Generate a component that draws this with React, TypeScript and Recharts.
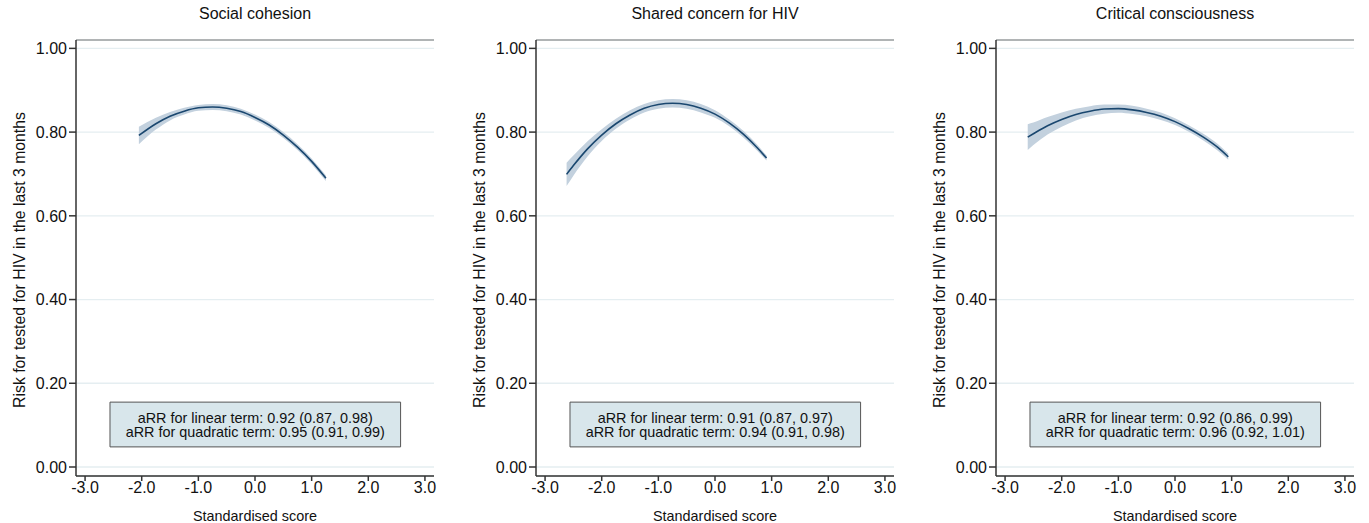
import React from 'react';
import { ComposedChart, Area, Line, XAxis, YAxis, CartesianGrid, ReferenceArea, Label } from 'recharts';

const xTicks = [-3, -2, -1, 0, 1, 2, 3];
const yTicks = [0, 0.2, 0.4, 0.6, 0.8, 1.0];

const panelTitles = ['Social cohesion', 'Shared concern for HIV', 'Critical consciousness'];
const linearTerms = [
  'aRR for linear term: 0.92 (0.87, 0.98)',
  'aRR for linear term: 0.91 (0.87, 0.97)',
  'aRR for linear term: 0.92 (0.86, 0.99)',
];
const quadraticTerms = [
  'aRR for quadratic term: 0.95 (0.91, 0.99)',
  'aRR for quadratic term: 0.94 (0.91, 0.98)',
  'aRR for quadratic term: 0.96 (0.92, 1.01)',
];
const yAxisTitle = 'Risk for tested for HIV in the last 3 months';
const xAxisTitle = 'Standardised score';

// Social cohesion
const cohesionX = [-2.05, -1.75, -1.5, -1.25, -1.0, -0.75, -0.5, -0.25, 0, 0.25, 0.5, 0.75, 1.0, 1.25];
const cohesionFit = [0.792, 0.820, 0.838, 0.850, 0.858, 0.860, 0.857, 0.849, 0.835, 0.817, 0.793, 0.764, 0.730, 0.690];
const cohesionLo = [0.771, 0.806, 0.828, 0.842, 0.851, 0.853, 0.850, 0.842, 0.828, 0.810, 0.786, 0.757, 0.723, 0.683];
const cohesionHi = [0.813, 0.834, 0.848, 0.858, 0.865, 0.867, 0.864, 0.856, 0.842, 0.824, 0.800, 0.771, 0.737, 0.697];

// Shared concern for HIV
const concernX = [-2.62, -2.5, -2.25, -2.0, -1.75, -1.5, -1.25, -1.0, -0.75, -0.5, -0.25, 0, 0.25, 0.5, 0.75, 0.91];
const concernFit = [0.699, 0.720, 0.760, 0.793, 0.820, 0.841, 0.857, 0.866, 0.869, 0.866, 0.857, 0.843, 0.822, 0.795, 0.762, 0.738];
const concernLo = [0.671, 0.696, 0.742, 0.779, 0.808, 0.830, 0.847, 0.856, 0.859, 0.856, 0.847, 0.834, 0.814, 0.787, 0.755, 0.732];
const concernHi = [0.727, 0.744, 0.778, 0.807, 0.832, 0.852, 0.867, 0.876, 0.879, 0.876, 0.867, 0.852, 0.830, 0.803, 0.769, 0.744];

// Critical consciousness
const criticalX = [-2.6, -2.5, -2.25, -2.0, -1.75, -1.5, -1.25, -1.0, -0.75, -0.5, -0.25, 0, 0.25, 0.5, 0.75, 0.94];
const criticalFit = [0.788, 0.796, 0.815, 0.830, 0.842, 0.850, 0.855, 0.856, 0.853, 0.847, 0.838, 0.825, 0.808, 0.788, 0.764, 0.741];
const criticalLo = [0.757, 0.769, 0.794, 0.813, 0.828, 0.838, 0.844, 0.846, 0.843, 0.838, 0.829, 0.817, 0.800, 0.780, 0.756, 0.734];
const criticalHi = [0.819, 0.823, 0.836, 0.847, 0.856, 0.862, 0.866, 0.866, 0.863, 0.856, 0.847, 0.833, 0.816, 0.796, 0.772, 0.748];

const buildRows = (xs: number[], fit: number[], lo: number[], hi: number[]) =>
  xs.map((x, i) => ({ x, fit: fit[i], band: [lo[i], hi[i]] }));

const panels = [
  buildRows(cohesionX, cohesionFit, cohesionLo, cohesionHi),
  buildRows(concernX, concernFit, concernLo, concernHi),
  buildRows(criticalX, criticalFit, criticalLo, criticalHi),
];

const X_DOMAIN: [number, number] = [-3.16, 3.16];
const Y_DOMAIN: [number, number] = [-0.0215, 1.02];
const TEXT = '#111111';

function Panel({ idx, width, marginRight }: { idx: number; width: number; marginRight: number }) {
  const rows = panels[idx];
  return (
    <ComposedChart
      width={width}
      height={523}
      data={rows}
      margin={{ top: 0, right: marginRight, bottom: 0, left: 16 }}
    >
      <CartesianGrid horizontal vertical={false} stroke="#e5eef1" strokeWidth={1.3} />
      <XAxis
        dataKey="x"
        type="number"
        domain={X_DOMAIN}
        ticks={xTicks}
        allowDataOverflow
        tickFormatter={(v: number) => v.toFixed(1)}
        height={47}
        tickSize={5}
        tickMargin={1}
        stroke="#333"
        strokeWidth={1.5}
        tick={{ fill: TEXT, fontSize: 16 }}
      >
        <Label value={xAxisTitle} position="insideBottom" offset={2} style={{ fill: TEXT, fontSize: 14.4 }} />
      </XAxis>
      <XAxis
        xAxisId="top"
        orientation="top"
        type="number"
        domain={X_DOMAIN}
        allowDataOverflow
        height={40}
        tick={false}
        tickLine={false}
        stroke="#777"
      >
        <Label value={panelTitles[idx]} position="insideTop" offset={8} style={{ fill: TEXT, fontSize: 16 }} />
      </XAxis>
      <YAxis
        type="number"
        domain={Y_DOMAIN}
        ticks={yTicks}
        allowDataOverflow
        tickFormatter={(v: number) => v.toFixed(2)}
        width={60}
        tickSize={7}
        tickMargin={2}
        stroke="#333"
        strokeWidth={1.5}
        tick={{ fill: TEXT, fontSize: 16 }}
      >
        <Label
          content={() => {
            const cy = 260;
            const cx = 19;
            return (
              <text
                x={cx}
                y={cy}
                transform={`rotate(-90, ${cx}, ${cy})`}
                textAnchor="middle"
                dominantBaseline="central"
                fill={TEXT}
                fontSize={15.8}
              >
                {yAxisTitle}
              </text>
            );
          }}
        />
      </YAxis>
      <YAxis
        yAxisId="right"
        orientation="right"
        type="number"
        domain={Y_DOMAIN}
        allowDataOverflow
        width={0}
        tick={false}
        tickLine={false}
        stroke="#777"
      />
      <Area
        dataKey="band"
        type="monotone"
        fill="#c3d1de"
        fillOpacity={1}
        stroke="none"
        isAnimationActive={false}
      />
      <Line
        dataKey="fit"
        type="monotone"
        stroke="#1a476f"
        strokeWidth={1.6}
        dot={false}
        isAnimationActive={false}
      />
      <ReferenceArea
        x1={-2.56}
        x2={2.57}
        y1={0.048}
        y2={0.155}
        fill="#d8e6eb"
        fillOpacity={1}
        stroke="#555"
        strokeWidth={1}
        ifOverflow="visible"
        label={(props: any) => {
          const vb = props.viewBox || {};
          const cx = vb.x + vb.width / 2;
          const cy = vb.y + vb.height / 2;
          return (
            <g>
              <text x={cx} y={cy - 6.5} textAnchor="middle" dominantBaseline="central" fill={TEXT} fontSize={14.4}>
                {linearTerms[idx]}
              </text>
              <text x={cx} y={cy + 7.5} textAnchor="middle" dominantBaseline="central" fill={TEXT} fontSize={14.4}>
                {quadraticTerms[idx]}
              </text>
            </g>
          );
        }}
      />
    </ComposedChart>
  );
}

export default function App() {
  return (
    <div
      style={{
        position: 'absolute',
        left: 0,
        top: 0,
        width: 1369,
        height: 523,
        overflow: 'hidden',
        background: '#fff',
        display: 'flex',
        fontFamily: '"Liberation Sans", Arial, Helvetica, sans-serif',
      }}
    >
      <Panel idx={0} width={460} marginRight={26} />
      <Panel idx={1} width={460} marginRight={26} />
      <Panel idx={2} width={449} marginRight={15} />
    </div>
  );
}
